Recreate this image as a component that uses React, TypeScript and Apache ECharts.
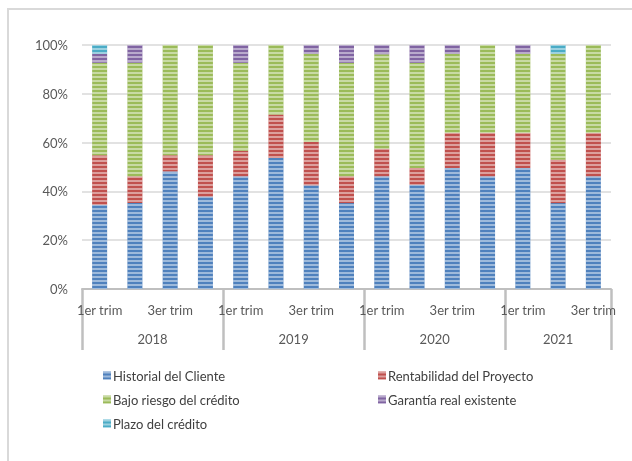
import React, { useEffect, useRef } from "react";
import * as echarts from "echarts";

const quarters = [
  "1er trim", "2do trim", "3er trim", "4to trim",
  "1er trim", "2do trim", "3er trim", "4to trim",
  "1er trim", "2do trim", "3er trim", "4to trim",
  "1er trim", "2do trim", "3er trim",
];
const years = ["2018", "2019", "2020", "2021"];
const yearBounds = [0, 4, 8, 12, 15];
const yearCenters = [2, 6, 10, 13.5];
const yTicks = [0, 20, 40, 60, 80, 100];

const historial = [34.5, 35.2, 48.2, 37.9, 46.2, 53.7, 42.5, 35.2, 46.2, 42.7, 49.6, 46.2, 49.6, 35.2, 46.2];
const rentabilidad = [20.3, 11.0, 6.6, 16.9, 10.5, 17.8, 17.8, 11.0, 11.3, 6.9, 14.4, 17.8, 14.4, 17.8, 17.8];
const bajoRiesgo = [37.9, 46.5, 45.2, 45.2, 36.0, 28.5, 36.1, 46.5, 38.7, 43.1, 32.4, 36.0, 32.4, 43.4, 36.0];
const garantia = [3.7, 7.3, 0, 0, 7.3, 0, 3.6, 7.3, 3.8, 7.3, 3.6, 0, 3.6, 0, 0];
const plazo = [3.6, 0, 0, 0, 0, 0, 0, 0, 0, 0, 0, 0, 0, 3.6, 0];

const seriesNames = [
  "Historial del Cliente",
  "Rentabilidad del Proyecto",
  "Bajo riesgo del crédito",
  "Garantía real existente",
  "Plazo del crédito",
];
const seriesData = [historial, rentabilidad, bajoRiesgo, garantia, plazo];
const colors = ["#4F81BD", "#C0504D", "#9BBB59", "#8064A2", "#4BACC6"];

const FONT = "Lato, 'Open Sans', sans-serif";

export default function App() {
  const ref = useRef<HTMLDivElement>(null);
  useEffect(() => {
    if (!ref.current) return;
    const chart = echarts.init(ref.current, undefined, { renderer: "svg" });
    const decal = {
      symbol: "rect",
      symbolSize: 1,
      dashArrayX: [1, 0],
      dashArrayY: [2, 2],
      rotation: 0,
      color: "rgba(255,255,255,0.45)",
    };
    const legendText = { color: "#404040", fontSize: 13, fontFamily: FONT, padding: [0, 0, 0, -3] };
    chart.setOption({
      animation: false,
      textStyle: { fontFamily: FONT },
      graphic: [
        {
          type: "rect",
          shape: { x: 8, y: 9, width: 640, height: 470 },
          style: { fill: "none", stroke: "#d9d9d9", lineWidth: 2 },
          silent: true,
        },
      ],
      grid: { left: 82, right: 21, top: 45, bottom: 172 },
      legend: [
        {
          orient: "vertical",
          left: 98,
          top: 364,
          height: 95,
          itemWidth: 8,
          itemHeight: 8,
          itemGap: 11,
          icon: "rect",
          data: [seriesNames[0], seriesNames[2], seriesNames[4]],
          textStyle: legendText,
        },
        {
          orient: "vertical",
          left: 373,
          top: 364,
          height: 95,
          itemWidth: 8,
          itemHeight: 8,
          itemGap: 11,
          icon: "rect",
          data: [seriesNames[1], seriesNames[3]],
          textStyle: legendText,
        },
      ],
      xAxis: [
        {
          type: "category",
          data: quarters,
          position: "bottom",
          axisLine: { show: true, lineStyle: { color: "#bfbfbf", width: 2 } },
          axisTick: { show: false },
          axisLabel: {
            interval: 1,
            margin: 14,
            color: "#595959",
            fontSize: 13,
            fontFamily: FONT,
          },
          splitLine: { show: false },
        },
        {
          type: "value",
          min: 0,
          max: 15,
          position: "bottom",
          axisLine: { show: false },
          axisTick: {
            show: true,
            customValues: yearBounds,
            length: 61,
            lineStyle: { color: "#bfbfbf", width: 2.5 },
          },
          axisLabel: {
            show: true,
            customValues: yearCenters,
            margin: 43,
            color: "#595959",
            fontSize: 13,
            fontFamily: FONT,
            formatter: (v: number) => {
              const i = yearCenters.indexOf(v);
              return i >= 0 ? years[i] : "";
            },
          },
          splitLine: { show: false },
        },
      ],
      yAxis: {
        type: "value",
        min: yTicks[0],
        max: yTicks[yTicks.length - 1],
        interval: 20,
        axisLine: { show: false },
        axisTick: { show: false },
        axisLabel: {
          formatter: "{value}%",
          margin: 14,
          color: "#595959",
          fontSize: 13,
          fontFamily: FONT,
        },
        splitLine: { lineStyle: { color: "#d9d9d9", width: 1.5 } },
      },
      series: seriesNames.map((name, i) => ({
        name,
        type: "bar",
        stack: "total",
        xAxisIndex: 0,
        barWidth: 15,
        data: seriesData[i],
        itemStyle: { color: colors[i], decal },
      })),
    });
    return () => chart.dispose();
  }, []);
  return (
    <div
      ref={ref}
      style={{ position: "fixed", left: 0, top: 0, width: 632, height: 461 }}
    />
  );
}
